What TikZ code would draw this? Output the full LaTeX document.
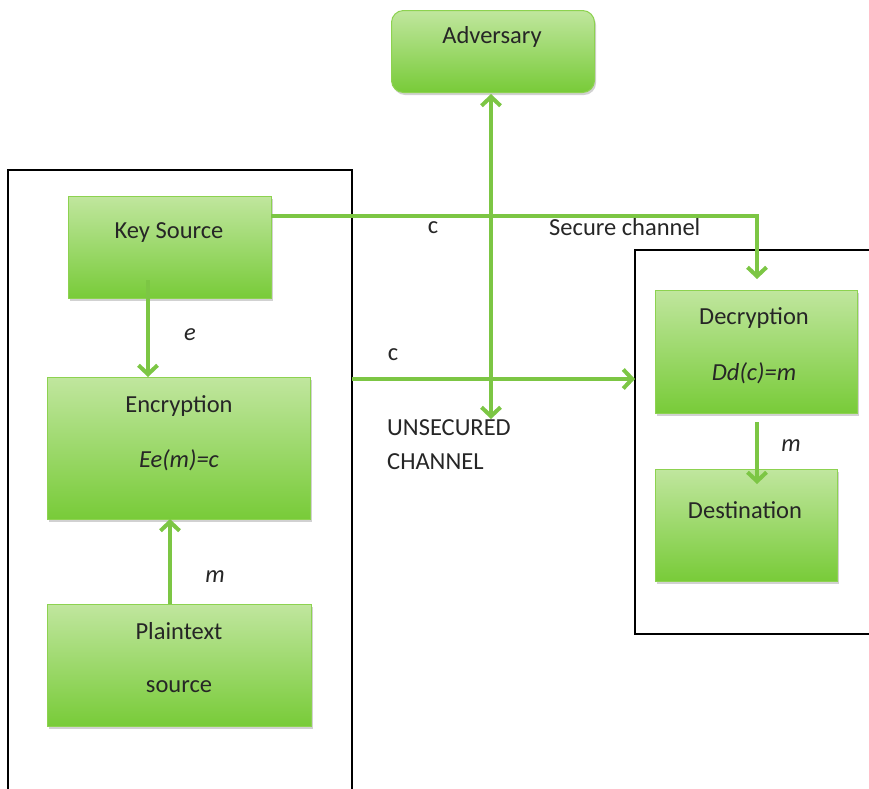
\documentclass[tikz,border=0pt]{standalone}
\usepackage{fontspec}
\setmainfont{Carlito}
\usetikzlibrary{arrows.meta,shadows}
\definecolor{flow}{HTML}{7CC644}
\definecolor{boxtop}{HTML}{C0E69E}
\definecolor{boxbot}{HTML}{78CB38}
\definecolor{boxedge}{HTML}{8DD250}
\tikzset{
  greenbox/.style={draw=boxedge, line width=1pt, top color=boxtop, bottom color=boxbot,
    drop shadow={shadow xshift=1.5pt, shadow yshift=-2.5pt, fill=black!40, opacity=.45},
    inner sep=0pt, anchor=north west},
  frame/.style={draw=black, line width=1.2pt},
  flowline/.style={draw=flow, line width=4.5pt},
  flowarrow/.style={flowline, -{Straight Barb[length=9pt,width=19pt,line width=4pt]}},
  twoway/.style={flowline, {Straight Barb[length=9pt,width=19pt,line width=4pt]}-{Straight Barb[length=9pt,width=19pt,line width=4pt]}},
  txt/.style={font=\fontsize{24.5}{28}\selectfont, text=black!85, inner sep=0pt},
  itxt/.style={txt, font=\fontsize{24.5}{28}\selectfont\itshape}
}
\begin{document}
\begin{tikzpicture}[x=1pt,y=-1pt]
\useasboundingbox (0,0) rectangle (869,788);
\fill[white] (0,0) rectangle (869,788);

% sender and receiver frames (both run past the picture edge)
\draw[frame] (8,800) -- (8,170) -- (352,170) -- (352,800);
\draw[frame] (880,634) -- (635,634) -- (635,250) -- (880,250);

% boxes
\node[greenbox, rounded corners=12pt, minimum width=203pt, minimum height=82pt] (adv) at (391,10) {};
\node[greenbox, minimum width=203pt, minimum height=102pt] (key) at (68,196) {};
\node[greenbox, minimum width=263pt, minimum height=142pt] (enc) at (47,377) {};
\node[greenbox, minimum width=264pt, minimum height=122pt] (pt) at (47,604) {};
\node[greenbox, minimum width=202pt, minimum height=123pt] (dec) at (655,290) {};
\node[greenbox, minimum width=182pt, minimum height=112pt] (dst) at (655,469) {};

% box texts
\node[txt] (advt) at (492,37) {Adversary};
\node[txt] (keyt) at (169,233) {Key Source};
\node[txt] (enct1) at (179,406) {Encryption};
\node[itxt] (enct2) at (179,460) {Ee(m)=c};
\node[txt] (ptt1) at (179,631) {Plaintext};
\node[txt] (ptt2) at (179,687) {source};
\node[txt] (dect1) at (754,318) {Decryption};
\node[itxt] (dect2) at (754,373) {Dd(c)=m};
\node[txt] (dstt) at (745,510) {Destination};

% connector end points
\coordinate (keyr) at (271,216);
\coordinate (corner) at (757,216);
\coordinate (dectop) at (757,279);
\coordinate (keybot) at (148,280);
\coordinate (encbot) at (170,519);
\coordinate (ptop) at (170,604);
\coordinate (uleft) at (352,379);
\coordinate (uright) at (635,379);
\coordinate (advbot) at (491,94);
\coordinate (adv2) at (491,419);
\coordinate (decbot) at (757,422);
\coordinate (dsttop) at (757,484);

% connectors
\draw[flowarrow] (keyr) -- (corner) -- (dectop);
\draw[flowarrow] (keybot) -- (148,377);
\draw[flowarrow] (ptop) -- (encbot);
\draw[flowarrow] (uleft) -- (uright);
\draw[twoway] (advbot) -- (adv2);
\draw[flowarrow] (decbot) -- (dsttop);

% connector labels
\node[txt] (lc1) at (433,228) {c};
\node[txt, anchor=west] (lsec) at (549,227) {Secure channel};
\node[itxt] (le) at (190,335) {e};
\node[txt] (lc2) at (393,355) {c};
\node[txt, anchor=west] (lun1) at (387,428) {UNSECURED};
\node[txt, anchor=west] (lun2) at (387,462) {CHANNEL};
\node[itxt] (lm1) at (215,577) {m};
\node[itxt] (lm2) at (791,446) {m};
\end{tikzpicture}
\end{document}
